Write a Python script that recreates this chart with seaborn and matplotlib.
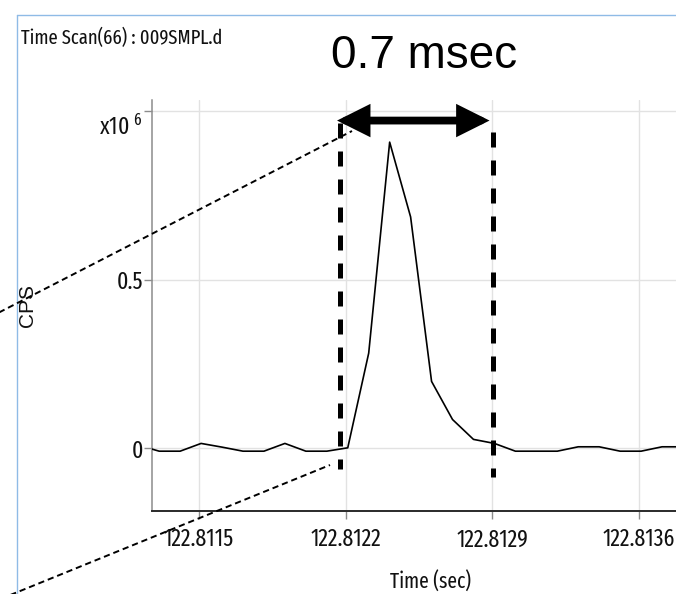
import numpy as np
import pandas as pd
import seaborn as sns
import matplotlib
matplotlib.use("Agg")
import matplotlib.pyplot as plt
from matplotlib.lines import Line2D
from matplotlib.patches import FancyArrowPatch, ArrowStyle
from matplotlib import font_manager as fm
from matplotlib.font_manager import FontProperties
from matplotlib.textpath import TextPath
import matplotlib.transforms as mtransforms

# ---------------- data ----------------
time_sec = [122.81121, 122.81131, 122.81141, 122.81151, 122.81161, 122.81171,
            122.81181, 122.81191, 122.81201, 122.81211, 122.81221, 122.81231,
            122.81241, 122.81251, 122.81261, 122.81271, 122.81281, 122.81291,
            122.81301, 122.81311, 122.81321, 122.81331, 122.81341, 122.81351,
            122.81361, 122.81371, 122.81381]
cps = [10000, -8000, -8000, 15000, 4000, -8000, -8000, 15000, -8000, -8000,
       2000, 283000, 909000, 687000, 199000, 86000, 27000, 15000, -8000,
       -8000, -8000, 5000, 5000, -8000, -8000, 5000, 5000]
x_ticks = [122.8115, 122.8122, 122.8129, 122.8136]
x_tick_labels = ["122.8115", "122.8122", "122.8129", "122.8136"]
y_ticks = [0.0, 0.5, 1.0]
y_tick_labels = ["0", "0.5", r"x10 $^{\mathregular{6}}$"]
scale = 1e6
title_text = "Time Scan(66) : 009SMPL.d"
width_text = "0.7 msec"
x_label = "Time (sec)"
y_label = "CPS"
# window marked on the chart (seconds)
win_start, win_end = 122.812173, 122.812902

df = pd.DataFrame({"t": time_sec, "cps": np.array(cps) / scale})

# ---------------- fonts ----------------
sns.set_style("white")
names = {f.name for f in fm.fontManager.ttflist}
REG = "Liberation Sans" if "Liberation Sans" in names else "DejaVu Sans"


def find_narrow():
    best, best_rank = None, 99
    prefs = ["extracondensed", "condensed", "narrow", "semicondensed"]
    for f in fm.fontManager.ttflist:
        fn = f.fname.lower().replace("-", "").replace("_", "").replace(" ", "")
        nm = f.name.lower()
        if f.style != "normal" or f.weight not in (400, "normal", "regular"):
            continue
        if "mono" in fn or "serif" in fn and "sans" not in fn:
            continue
        if "bold" in fn or "light" in fn or "thin" in fn or "medium" in fn or "black" in fn:
            continue
        key = fn.split("/")[-1]
        for r, p in enumerate(prefs):
            if p in key or p in nm.replace(" ", ""):
                if p == "condensed" and "semicondensed" in key:
                    continue
                if p == "condensed" and "extracondensed" in key:
                    continue
                if r < best_rank:
                    best, best_rank = f, r
                break
    return best


nf = find_narrow()
if nf is not None:
    FP_N = FontProperties(fname=nf.fname)
else:
    FP_N = FontProperties(family=REG)
plt.rcParams["font.family"] = [REG, "DejaVu Sans"]
plt.rcParams["mathtext.default"] = "regular"


def fit_size(text, target_px, max_pt):
    tp = TextPath((0, 0), text, size=10, prop=FP_N)
    w = tp.get_extents().width  # in points at size 10
    s = target_px * 72 / 100 * 10 / w
    return min(s, max_pt)


W, H = 676, 594
fig = plt.figure(figsize=(W / 100, H / 100), dpi=100)


def fx(x):
    return x / W


def fy(y):
    return 1 - y / H


ax_l, ax_r, ax_t, ax_b = 151.7, 676, 100, 510.7
ax = fig.add_axes([fx(ax_l), fy(ax_b), fx(ax_r - ax_l), (ax_b - ax_t) / H])

sns.lineplot(data=df, x="t", y="cps", ax=ax, color="black", lw=1.2,
             estimator=None, sort=False, zorder=3)

ax.set_xlim(122.8112743, 122.8137766)
ax.set_ylim(-0.1846, 1.034)
ax.set_xticks(x_ticks)
ax.set_xticklabels(x_tick_labels)
ax.set_yticks(y_ticks)
ax.set_yticklabels(y_tick_labels)
ax.set_xlabel("")
ax.set_ylabel("")
ax.grid(True, color="#e2e2e2", lw=1.0)
ax.set_axisbelow(True)

for s in ["top", "right"]:
    ax.spines[s].set_visible(False)
ax.spines["left"].set_color("#8c8c8c")
ax.spines["left"].set_linewidth(1.1)
ax.spines["bottom"].set_color("#2a2a2a")
ax.spines["bottom"].set_linewidth(1.4)

tick_pt = fit_size("122.8115", 70, 17)
ax.tick_params(axis="y", direction="out", length=5.5, width=1, color="#8c8c8c",
               pad=0.8, labelcolor="#111111", left=True)
ax.tick_params(axis="x", direction="out", length=5.5, width=1, color="#8c8c8c",
               pad=7, labelcolor="#111111", bottom=True)
for lbl in ax.get_xticklabels() + ax.get_yticklabels():
    fp = FP_N.copy()
    fp.set_size(tick_pt)
    lbl.set_fontproperties(fp)

# move the scale label a bit downward like the reference
top_lbl = ax.get_yticklabels()[-1]
top_lbl.set_va("top")
top_lbl.set_transform(top_lbl.get_transform() +
                      mtransforms.ScaledTranslation(0, -3 / 100, fig.dpi_scale_trans))

# ---------------- texts ----------------
fp_t = FP_N.copy()
fp_t.set_size(fit_size(title_text, 200, 18))
fig.text(fx(21.0), fy(38), title_text, fontproperties=fp_t, ha="left", va="center",
         color="#111111")
fig.text(fx(424), fy(56), width_text, fontsize=33, ha="center", va="center",
         family=[REG, "DejaVu Sans"], color="black")
fp_x = FP_N.copy()
fp_x.set_size(fit_size(x_label, 80, 18))
fig.text(fx(431), fy(571), x_label, fontproperties=fp_x, ha="center", va="top",
         color="#111111")
fig.text(fx(27.5), fy(305), y_label, fontsize=15, ha="center", va="center",
         rotation=90, family=[REG, "DejaVu Sans"], color="#111111")

# ---------------- frame ----------------
frame_c = "#8fbbe6"
fig.add_artist(Line2D([fx(17.3), fx(W)], [fy(15), fy(15)], color=frame_c, lw=1.0))
fig.add_artist(Line2D([fx(17.3), fx(17.3)], [fy(15), fy(H)], color=frame_c, lw=1.0))

# ---------------- annotations ----------------
# thick dashed window markers
ax.plot([win_start, win_start], [0.966, -0.061], color="black", lw=3.6,
        ls=(0, (3.0, 2.6)), solid_capstyle="butt", dash_capstyle="butt",
        clip_on=False, zorder=5)
ax.plot([win_end, win_end], [0.940, -0.085], color="black", lw=3.6,
        ls=(0, (3.0, 2.6)), solid_capstyle="butt", dash_capstyle="butt",
        clip_on=False, zorder=5)

# double headed arrow
arr = FancyArrowPatch(posA=(122.8114 + (337 - 178) / 209524, 0.973),
                      posB=(122.8114 + (489.5 - 178) / 209524, 0.973),
                      arrowstyle=ArrowStyle("<|-|>", head_length=1.5, head_width=0.75),
                      mutation_scale=10, lw=5.6, color="black", joinstyle="miter",
                      shrinkA=0, shrinkB=0, clip_on=False, zorder=6,
                      transform=ax.transData)
ax.add_patch(arr)

# thin dashed guide lines
fig.add_artist(Line2D([fx(-2), fx(352)], [fy(313), fy(131)], color="black", lw=1.4,
                      ls=(0, (3.2, 2.0)), zorder=10))
fig.add_artist(Line2D([fx(-2), fx(330)], [fy(600), fy(465)], color="black", lw=1.4,
                      ls=(0, (3.2, 2.0)), zorder=10))

fig.savefig("out.png", dpi=100)
